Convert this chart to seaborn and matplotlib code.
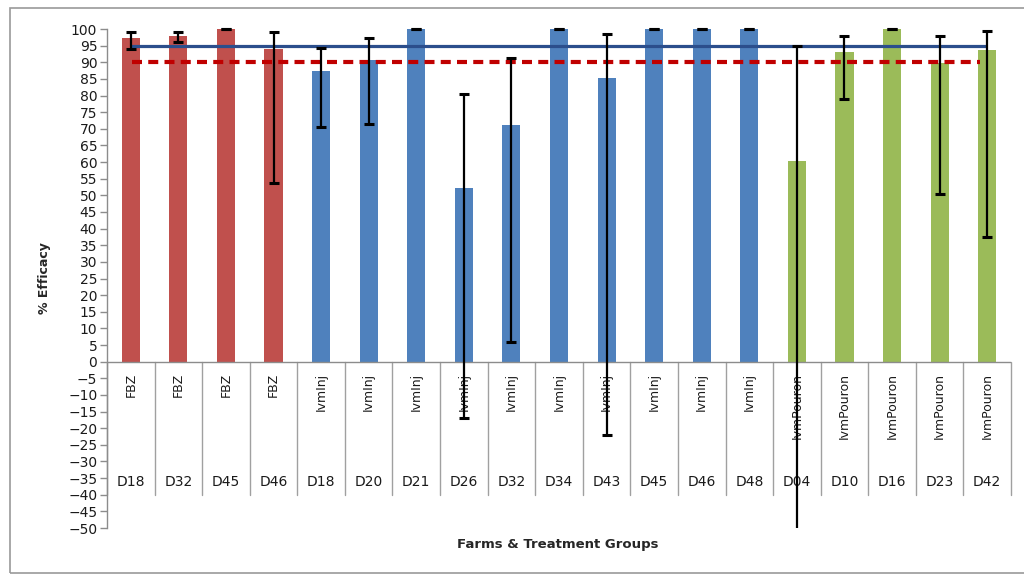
import numpy as np
import pandas as pd
import matplotlib
matplotlib.use("Agg")
import matplotlib.pyplot as plt
from matplotlib.patches import Rectangle
from matplotlib.transforms import Bbox, TransformedBbox
import seaborn as sns

# Treatment group, farm code, mean efficacy and the lower/upper confidence limits
treatments = ["FBZ"] * 4 + ["IvmInj"] * 10 + ["IvmPouron"] * 5
farms = ["D18", "D32", "D45", "D46",
         "D18", "D20", "D21", "D26", "D32", "D34", "D43", "D45", "D46", "D48",
         "D04", "D10", "D16", "D23", "D42"]
efficacy = [97.4, 97.8, 100, 94.0,
            87.3, 90.6, 100, 52.3, 71.0, 100, 85.2, 100, 100, 100,
            60.4, 93.2, 100, 89.7, 93.6]
lower_ci = [94.0, 96.2, 100, 53.8,
            70.6, 71.4, 100, -17.0, 5.8, 100, -22.1, 100, 100, 100,
            -55.0, 79.0, 100, 50.3, 37.6]
upper_ci = [99.2, 99.2, 100, 99.0,
            94.4, 97.2, 100, 80.6, 91.2, 100, 98.5, 100, 100, 100,
            95.0, 98.0, 100, 98.0, 99.5]

# Reference thresholds for efficacy
target_efficacy = 95
resistance_cutoff = 90

palette = {"FBZ": "#C0504D", "IvmInj": "#4F81BD", "IvmPouron": "#9BBB59"}

df = pd.DataFrame({
    "label": [f"{t} {f}" for t, f in zip(treatments, farms)],
    "treatment": treatments,
    "farm": farms,
    "efficacy": efficacy,
})

sns.set_style("white")
plt.rcParams["font.family"] = ["DejaVu Sans"]

fig = plt.figure(figsize=(10.24, 5.77), dpi=100)
ax = fig.add_axes([0.1045, 0.0849, 0.8828, 0.8648])

sns.barplot(data=df, x="label", y="efficacy", hue="treatment", palette=palette,
            dodge=False, width=0.38, order=df["label"], legend=False,
            errorbar=None, saturation=1, ax=ax, zorder=2, linewidth=0)

n = len(df)
xpos = np.arange(n)
eff = np.array(efficacy)
yerr = np.vstack([eff - np.array(lower_ci), np.array(upper_ci) - eff])
eb = ax.errorbar(xpos, eff, yerr=yerr, fmt="none", ecolor="black",
                 elinewidth=1.6, capsize=3.8, capthick=2.2, zorder=5)

# Let caps at 100 show fully while the long whisker stops at the axis bottom
clip = TransformedBbox(Bbox([[-0.5, -50], [n - 0.5, 102]]), ax.transData)
for art in list(eb.lines[1]) + list(eb.lines[2]):
    art.set_clip_box(clip)
    art.set_clip_on(True)

# Threshold lines across the groups
ax.plot([0, n - 1], [target_efficacy] * 2, color="#2B4E8C", lw=2.3,
        zorder=4, solid_capstyle="butt")
ax.plot([0.03, n - 1.15], [resistance_cutoff] * 2, color="#C00000", lw=3.0,
        zorder=4, linestyle=(0, (2.4, 1.5)), dash_capstyle="butt")

ax.set_xlim(-0.5, n - 0.5)
ax.set_ylim(-50, 100)
ax.set_yticks(np.arange(-50, 101, 5))
ax.tick_params(axis="y", which="major", direction="out", length=5, width=1,
               color="#8C8C8C", labelsize=10, pad=2, left=True,
               labelcolor="#1A1A1A")
ax.set_xticks([])
ax.set_xlabel("")
ax.set_ylabel("% Efficacy", fontsize=9, fontweight="bold", labelpad=12)

for side in ["top", "right", "bottom"]:
    ax.spines[side].set_visible(False)
ax.spines["left"].set_color("#8C8C8C")
ax.spines["left"].set_linewidth(1)

# Category axis at zero with a two-row label table
ax.axhline(0, color="#8C8C8C", lw=1, zorder=3)
for b in np.arange(n + 1) - 0.5:
    ax.plot([b, b], [0, -40], color="#A0A0A0", lw=1, zorder=1, clip_on=False)
for i, (t, f) in enumerate(zip(treatments, farms)):
    ax.text(i, -3.3, t, rotation=90, ha="center", va="top", fontsize=9,
            color="#1A1A1A", zorder=3)
    ax.text(i, -36.3, f, ha="center", va="center", fontsize=10,
            color="#1A1A1A", zorder=3)

fig.text(0.545, 0.057, "Farms & Treatment Groups", ha="center", va="center",
         fontsize=9.5, fontweight="bold")

# Chart border
fig.patches.append(Rectangle((10 / 1024, 1 - 573 / 577), 1030 / 1024, 565 / 577,
                             transform=fig.transFigure, fill=False,
                             edgecolor="#9A9A9A", lw=1.2, zorder=0))

fig.savefig("out.png", dpi=100)
